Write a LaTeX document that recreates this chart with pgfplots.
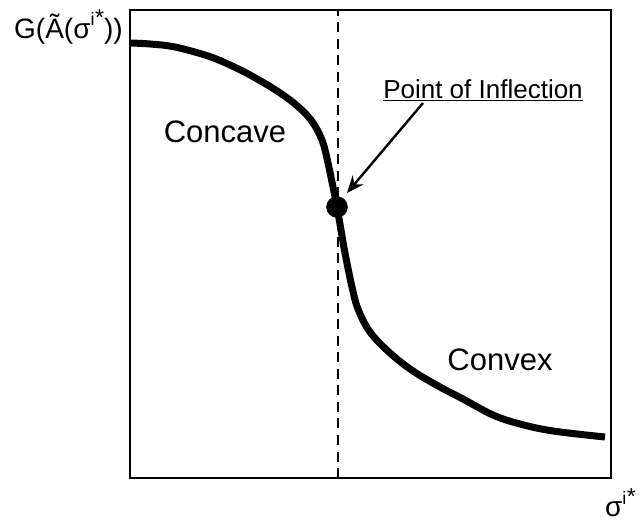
\documentclass[border=0pt]{standalone}
\usepackage{pgfplots}
\pgfplotsset{compat=1.18}
\usepackage{fontspec}
\setmainfont{Liberation Sans}
\usetikzlibrary{arrows.meta}
% superscript i* as drawn in the reference
\newcommand{\istar}{\raisebox{13pt}{\fontsize{18}{18}\selectfont i\kern0.5pt\fontsize{23}{23}\selectfont*}}

\begin{document}
\begin{tikzpicture}[x=1pt,y=1pt]
% page frame, 641 x 523
\path (0,0) rectangle (641,523);
\begin{axis}[
    at={(130pt,45pt)}, anchor=south west,
    scale only axis,
    width=481pt, height=468pt,
    xmin=0, xmax=481, ymin=0, ymax=468,
    axis line style={line width=2.5pt},
    ticks=none,
    clip=false,
]
% vertical line through the inflection point
\addplot[black, line width=2.4pt, dash pattern=on 10pt off 6.5pt] coordinates {(208,0) (208,468)};
% the curve
\addplot[black, line width=7pt, smooth, tension=0.6] coordinates {
    (0,435) (20,434) (45,431) (78,422) (100,413) (120,403) (144,389)
    (165,374) (181,358) (192,338) (198,315) (203,291) (207,271)
    (211,248) (215,225) (222,191) (228,169) (240,146) (260,125)
    (283,107) (310,91) (333,79) (363,63) (390,54) (423,47) (475,41)
};
% inflection point
\addplot[only marks, mark=*, mark size=10.5pt, black] coordinates {(207,271)};
\end{axis}
\node[font=\fontsize{31}{36}\selectfont] at (225,391) {Concave};
\node[font=\fontsize{31}{36}\selectfont] at (500,163) {Convex};
\node[font=\fontsize{26}{31}\selectfont] at (483,433) {\underline{Point of Inflection}};
\draw[line width=2.4pt, -{Stealth[length=17pt,width=14pt]}] (423,420) -- (347,330);
\node[anchor=base west, inner sep=0pt, font=\fontsize{28}{33}\selectfont] at (14,484) {G(Ã(σ\istar))};
\node[anchor=base east, inner sep=0pt, font=\fontsize{28}{33}\selectfont] at (636,6) {σ\istar};
\end{tikzpicture}
\end{document}
